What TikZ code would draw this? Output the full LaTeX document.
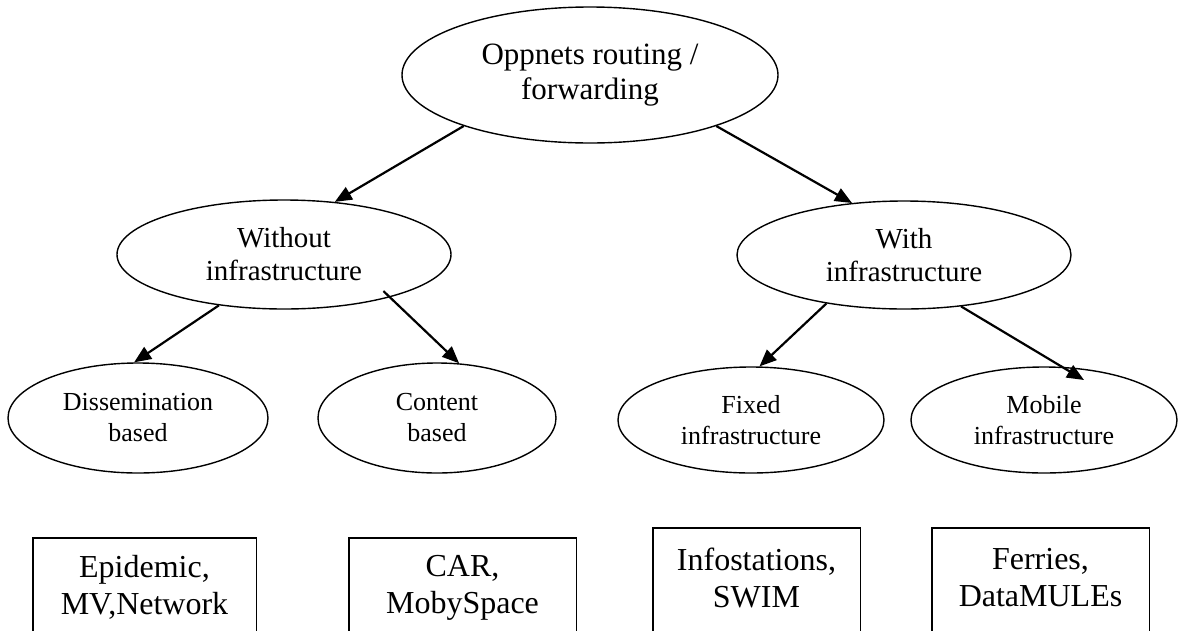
\documentclass[tikz,border=0pt]{standalone}
\usepackage{fontspec}
\setmainfont{Liberation Serif}
\usetikzlibrary{shapes.geometric,arrows.meta}
\begin{document}
\begin{tikzpicture}[x=1pt,y=-1pt,
  ell/.style={ellipse,draw,line width=1.4pt,inner sep=0pt,align=center},
  topf/.style={font=\fontsize{31}{35}\selectfont},
  midf/.style={font=\fontsize{29}{33}\selectfont},
  leaff/.style={font=\fontsize{26}{31}\selectfont},
  leafbox/.style={rectangle,inner sep=0pt,align=center,anchor=north,minimum height=99pt,font=\fontsize{32}{37}\selectfont},
  boxline/.style={line width=1.4pt},
  arr/.style={-{Triangle[length=17pt,width=14pt]},line width=2.2pt}]
\useasboundingbox (0,0) rectangle (1179,630);
\clip (0,0) rectangle (1179,630);
\fill[white] (0,0) rectangle (1179,630);
\node[ell,topf,minimum width=376pt,minimum height=136pt] (top) at (590,75) {Oppnets routing /\\forwarding};
\node[ell,midf,minimum width=334pt,minimum height=109pt] (wo) at (284,254.5) {Without\\infrastructure};
\node[ell,midf,minimum width=334pt,minimum height=108pt] (wi) at (904,255) {With\\infrastructure};
\node[ell,leaff,minimum width=260pt,minimum height=110pt] (dis) at (138,418) {Dissemination\\based};
\node[ell,leaff,minimum width=238pt,minimum height=110pt] (con) at (437,418) {Content\\based};
\node[ell,leaff,minimum width=266pt,minimum height=106pt] (fix) at (751,420) {Fixed\\infrastructure};
\node[ell,leaff,minimum width=266pt,minimum height=106pt] (mob) at (1044,420) {Mobile\\infrastructure};
\node[leafbox,minimum width=223pt] (b1) at (144.5,538) {Epidemic,\\MV,Network};
\node[leafbox,minimum width=227pt] (b2) at (462.5,538) {CAR,\\MobySpace};
\node[leafbox,minimum width=207pt] (b3) at (756.5,528) {Infostations,\\SWIM};
\node[leafbox,minimum width=217pt] (b4) at (1040.5,528) {Ferries,\\DataMULEs};
\foreach \b in {b1,b2,b3,b4}
  \draw[boxline] ([yshift=-30pt]\b.south west) -- (\b.north west) -- (\b.north east) -- ([yshift=-30pt]\b.south east);
\draw[arr] (top.202.5) -- (wo.46);
\draw[arr] (top.338.4) -- (wi.135);
\draw[arr] (wo.218.3) -- (dis.94);
\draw[arr,shorten <=-9pt] (wo.338.7) -- (con.68.2);
\draw[arr] (wi.212.7) -- (fix.81.7);
\draw[arr] (wi.318) -- ([xshift=40pt,yshift=40pt]mob.center);
\end{tikzpicture}
\end{document}
